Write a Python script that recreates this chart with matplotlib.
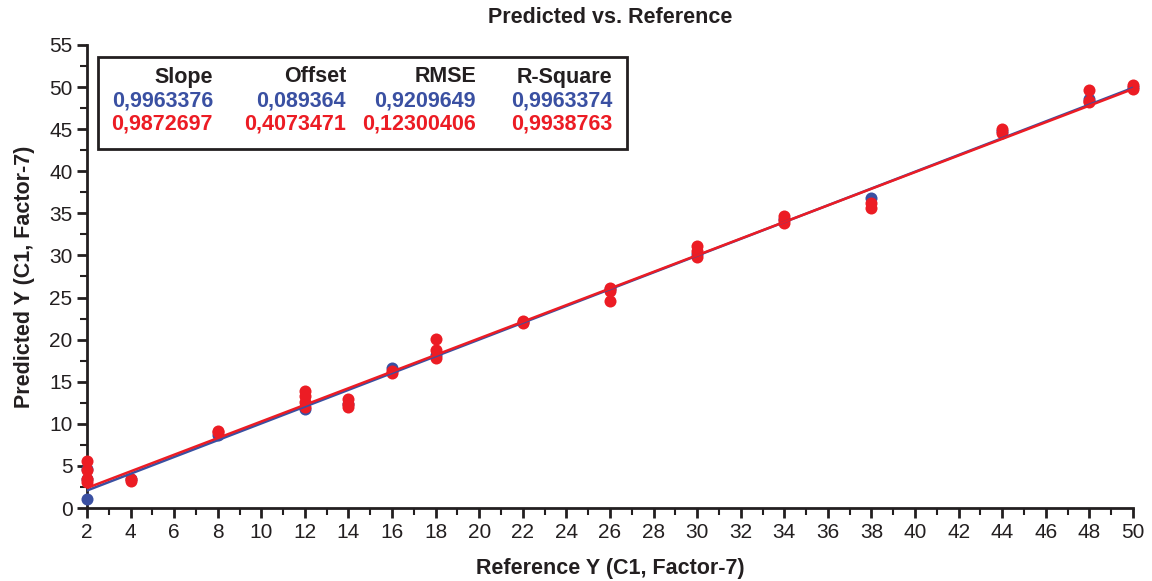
import numpy as np
import matplotlib.pyplot as plt
from matplotlib.ticker import MultipleLocator

# calibration (blue) and validation (red) samples
ref_blue = [2, 2, 2, 4, 8, 12, 14, 16, 18, 22, 26, 30, 34, 38, 44, 48, 50]
pred_blue = [1.1, 3.4, 4.6, 3.4, 8.7, 11.8, 12.3, 16.6, 18.2, 22.1, 26.0, 30.2, 34.3, 36.8, 44.8, 48.6, 50.0]
ref_red = [2, 2, 2, 2, 4, 4, 8, 8, 12, 12, 12, 12, 14, 14, 14, 16, 16, 18, 18, 18,
           22, 22, 26, 26, 26, 30, 30, 30, 34, 34, 34, 38, 38, 44, 44, 48, 48, 48, 50, 50]
pred_red = [5.6, 4.5, 3.4, 3.1, 3.2, 3.5, 9.0, 9.2, 13.9, 13.3, 12.6, 12.0, 12.9, 12.4, 12.0,
            16.0, 16.3, 20.1, 18.8, 17.8, 22.2, 22.0, 26.1, 25.8, 24.6, 31.1, 30.5, 29.8,
            34.7, 34.2, 33.8, 36.2, 35.6, 45.0, 44.6, 49.6, 48.3, 48.2, 50.3, 49.8]

headers = ['Slope', 'Offset', 'RMSE', 'R-Square']
stats_blue = ['0,9963376', '0,089364', '0,9209649', '0,9963374']
stats_red = ['0,9872697', '0,4073471', '0,12300406', '0,9938763']
slope_blue, offset_blue = 0.9963376, 0.089364
slope_red, offset_red = 0.9872697, 0.4073471

BLUE = '#3a50a2'
RED = '#ec1c24'
DARK = '#231f20'

plt.rcParams['font.family'] = ['Liberation Sans', 'DejaVu Sans']

fig = plt.figure(figsize=(11.52, 5.81), dpi=100)
ax = fig.add_axes([0.0755, 0.1256, 0.908, 0.797])

ax.scatter(ref_blue, pred_blue, s=75, color=BLUE, zorder=3, clip_on=False, linewidths=0)
ax.scatter(ref_red, pred_red, s=75, color=RED, zorder=4, clip_on=False, linewidths=0)

xx = np.array([2, 50])
ax.plot(xx, slope_blue * xx + offset_blue, color=BLUE, lw=1.8, zorder=5)
ax.plot(xx, slope_red * xx + offset_red, color=RED, lw=1.8, zorder=6)

ax.set_xlim(2, 50)
ax.set_ylim(0, 55)
ax.xaxis.set_major_locator(MultipleLocator(2))
ax.xaxis.set_minor_locator(MultipleLocator(1))
ax.yaxis.set_major_locator(MultipleLocator(5))
ax.yaxis.set_minor_locator(MultipleLocator(2.5))
for s in ['top', 'right']:
    ax.spines[s].set_visible(False)
for s in ['left', 'bottom']:
    ax.spines[s].set_linewidth(2)
    ax.spines[s].set_color(DARK)
ax.tick_params(which='major', length=7, width=2, labelsize=15, color=DARK, labelcolor=DARK)
ax.tick_params(which='minor', length=5, width=1.5, color=DARK)

ax.set_title('Predicted vs. Reference', fontsize=15.5, fontweight='bold', pad=16, color=DARK)
ax.set_xlabel('Reference Y (C1, Factor-7)', fontsize=15.5, fontweight='bold', labelpad=12, color=DARK)
ax.set_ylabel('Predicted Y (C1, Factor-7)', fontsize=15.5, fontweight='bold', labelpad=10, color=DARK)

# stats box
box = plt.Rectangle((98, 581 - 149), 529, 92, transform=None, fill=False,
                    lw=2, edgecolor=DARK, zorder=7)
fig.add_artist(box)
col_right = [213, 346, 476, 612]
for i in range(4):
    x = col_right[i] / 1152
    fig.text(x, 1 - 77 / 581, headers[i], ha='right', va='center', fontsize=15.5,
             fontweight='bold', color=DARK)
    fig.text(x, 1 - 101 / 581, stats_blue[i], ha='right', va='center', fontsize=15.5,
             fontweight='bold', color=BLUE)
    fig.text(x, 1 - 124 / 581, stats_red[i], ha='right', va='center', fontsize=15.5,
             fontweight='bold', color=RED)

fig.savefig('out.png', dpi=100)
